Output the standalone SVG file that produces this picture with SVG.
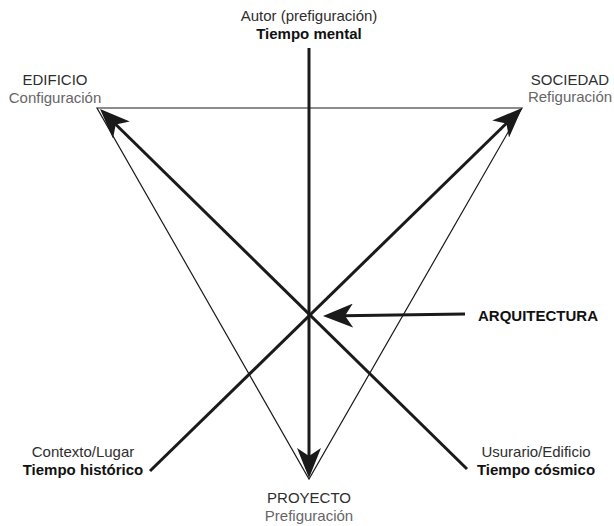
<svg xmlns="http://www.w3.org/2000/svg" width="614" height="526" viewBox="0 0 614 526">
<defs>
<style>
text{font-family:"Liberation Sans",Arial,Helvetica,sans-serif;font-size:15px;text-anchor:middle}
.t1{fill:#2e2e2e}
.t2{fill:#666}
.b{font-weight:bold;fill:#111}
.thin{stroke:#1a1a1a;stroke-width:1.2;fill:none}
.thick{stroke:#1a1a1a;stroke-width:3;fill:none}
.arr{marker-end:url(#ah)}
</style>
<marker id="ah" viewBox="0 0 30 24" markerWidth="30" markerHeight="24" refX="10" refY="12" orient="auto" markerUnits="userSpaceOnUse">
<path d="M0,0 L30,12 L0,24 L8,12 Z" fill="#1a1a1a"/>
</marker>
</defs>
<rect width="614" height="526" fill="#fff"/>
<g id="connectors">
<path class="thin" d="M97,108 L522,108 L309,479 Z"/>
<line class="thick arr" x1="309" y1="48" x2="309" y2="458"/>
<line class="thick arr" x1="467" y1="469" x2="114.3" y2="123"/>
<line class="thick arr" x1="150" y1="471" x2="507.8" y2="122"/>
<line class="thick arr" x1="465" y1="314" x2="343" y2="315.7"/>
</g>
<g id="autor">
<text class="t1" x="309" y="21">Autor (prefiguración)</text>
<text class="b" x="309" y="39">Tiempo mental</text>
</g>
<g id="edificio">
<text class="t1" x="55" y="85">EDIFICIO</text>
<text class="t2" x="55" y="103">Configuración</text>
</g>
<g id="sociedad">
<text class="t1" x="570" y="85">SOCIEDAD</text>
<text class="t2" x="570" y="102">Refiguración</text>
</g>
<g id="arquitectura">
<text class="b" x="538" y="321">ARQUITECTURA</text>
</g>
<g id="contexto">
<text class="t1" x="83" y="457">Contexto/Lugar</text>
<text class="b" x="83" y="475">Tiempo histórico</text>
</g>
<g id="usuario">
<text class="t1" x="536" y="457">Usurario/Edificio</text>
<text class="b" x="536" y="475">Tiempo cósmico</text>
</g>
<g id="proyecto">
<text class="t1" x="309" y="503">PROYECTO</text>
<text class="t2" x="309" y="521">Prefiguración</text>
</g>
</svg>
